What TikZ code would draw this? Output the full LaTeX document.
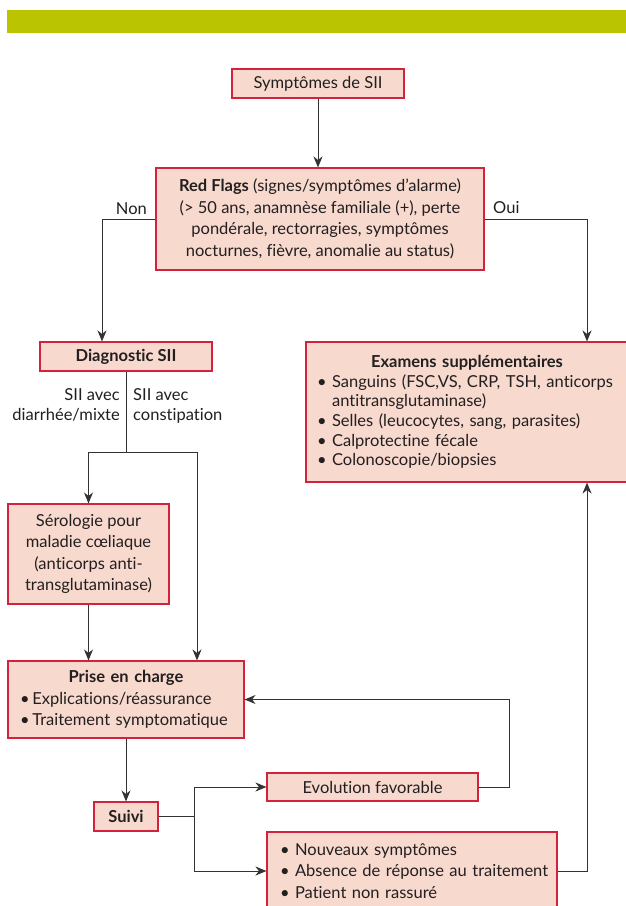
\documentclass[tikz,border=0pt]{standalone}
\usepackage{fontspec}
\setmainfont{Lato}[Ligatures=NoCommon]
\usetikzlibrary{arrows.meta, calc}
\definecolor{barre}{HTML}{BBC400}
\definecolor{cadre}{HTML}{D4213D}
\definecolor{fond}{HTML}{F7D9CE}
\definecolor{trait}{HTML}{333333}
\definecolor{encre}{HTML}{231F20}
\newcommand{\puce}[1]{\mbox{\textbullet~#1}}

\tikzset{
  boite/.style={draw=cadre, fill=fond, line width=1.1pt, inner sep=0pt, align=center,
    text=encre, font=\fontsize{16.5}{21.5}\selectfont},
  liste/.style={boite, align=left},
  lien/.style={draw=trait, line width=1pt},
  fleche/.style={lien, -{Stealth[length=11pt,width=9pt,inset=3.5pt]}},
  etiq/.style={inner sep=0pt, text=encre, font=\fontsize{16.5}{20}\selectfont}
}

\begin{document}
\begin{tikzpicture}[x=1pt, y=-1pt]
  \useasboundingbox (0,0) rectangle (626,906);
  \fill[white] (0,0) rectangle (626,906);
  \fill[barre] (7,10) rectangle (626,33);

  % boites
  \node[boite, minimum width=172pt, minimum height=29pt] (sympt) at (318,83.5) {Symptômes de SII};
  \node[boite, minimum width=328pt, minimum height=102pt] (alarme) at (320,219)
    {\textbf{Red Flags} (signes/symptômes d’alarme)\\(> 50 ans, anamnèse familiale (+), perte\\pondérale, rectorragies, symptômes\\nocturnes, fièvre, anomalie au status)};
  \node[boite, minimum width=172pt, minimum height=29pt, font=\fontsize{16.5}{21.5}\selectfont\bfseries] (diag) at (126,356.5) {Diagnostic SII};
  \node[liste, text width=300pt, inner xsep=11pt, minimum height=140pt, font=\fontsize{16.5}{19.6}\selectfont] (examens) at (467,412)
    {\makebox[300pt]{\bfseries Examens supplémentaires}\\
     \puce{Sanguins (FSC,VS, CRP, TSH, anticorps}\\
     \phantom{\textbullet~}antitransglutaminase)\\
     \puce{Selles (leucocytes, sang, parasites)}\\
     \puce{Calprotectine fécale}\\
     \puce{Colonoscopie/biopsies}};
  \node[boite, minimum width=161pt, minimum height=100pt] (sero) at (88.5,554)
    {Sérologie pour\\maladie cœliaque\\(anticorps anti-\\transglutaminase)};
  \node[liste, text width=212pt, inner xsep=12pt, minimum height=77pt] (prise) at (126,699.5)
    {\makebox[212pt]{\bfseries Prise en charge}\\
     \mbox{\textbullet\,Explications/réassurance}\\
     \mbox{\textbullet\,Traitement symptomatique}};
  \node[boite, minimum width=64pt, minimum height=29pt, font=\fontsize{16.5}{21.5}\selectfont\bfseries] (suivi) at (126,816.5) {Suivi};
  \node[boite, minimum width=211pt, minimum height=28pt] (evol) at (372.5,787) {Evolution favorable};
  \node[liste, text width=264pt, inner xsep=13pt, minimum height=78pt] (nouv) at (412,871)
    {\puce{Nouveaux symptômes}\\
     \puce{Absence de réponse au traitement}\\
     \puce{Patient non rassuré}};

  % etiquettes
  \node[etiq, anchor=base east] (non) at (147,214) {Non};
  \node[etiq, anchor=base west] (oui) at (493,213) {Oui};
  \node[etiq, anchor=north east, align=right] (diarr) at (120,388) {SII avec\\diarrhée/mixte};
  \node[etiq, anchor=north west, align=left] (const) at (133,388) {SII avec\\constipation};

  % liaisons
  \coordinate (fourche) at (126,452);
  \coordinate (relais) at (194,816.5);
  \draw[fleche] (sympt.south) -- (sympt.south |- alarme.north);
  \draw[fleche] (alarme.west) -| ([xshift=-24pt]diag.north);
  \draw[fleche] (alarme.east) -| ([xshift=120pt]examens.north);
  \draw[lien] (diag.south) -- (fourche);
  \draw[fleche] (fourche) -| (sero.north);
  \draw[fleche] (fourche) -| ([xshift=71pt]prise.north);
  \draw[fleche] (sero.south) -- (sero.south |- prise.north);
  \draw[fleche] (prise.south) -- (suivi.north);
  \draw[lien] (suivi.east) -- (relais);
  \draw[fleche] (relais) |- (evol.west);
  \draw[fleche] (relais) |- (nouv.west);
  \draw[fleche] (evol.east) -- ++(31,0) |- (prise.east);
  \draw[fleche] (nouv.east) -| ([xshift=120pt]examens.south);
\end{tikzpicture}
\end{document}
